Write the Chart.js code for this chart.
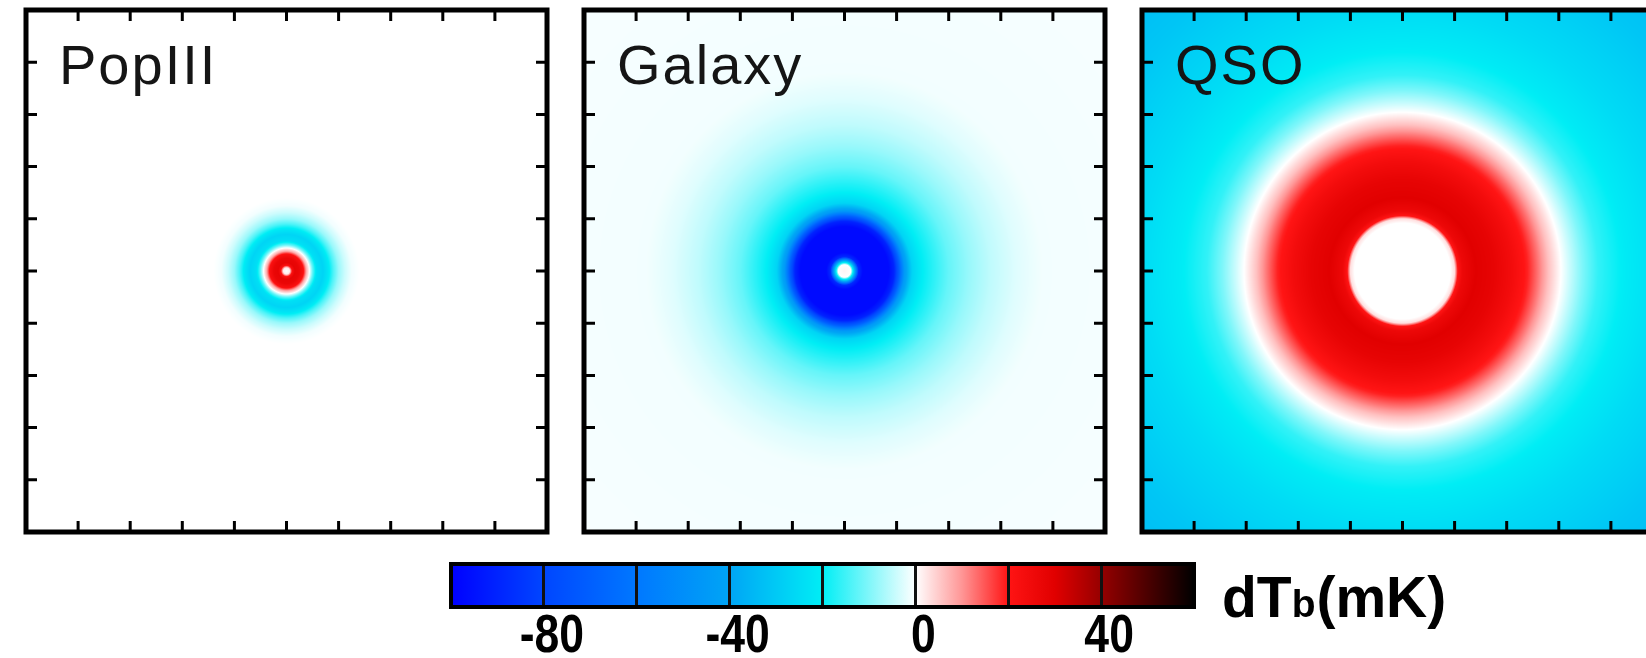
<!DOCTYPE html>
<html><head><meta charset="utf-8">
<script src="https://cdn.jsdelivr.net/npm/chart.js@4/dist/chart.umd.min.js"></script>
<style>
html,body{margin:0;padding:0;background:#fff;width:1646px;height:658px;overflow:hidden;position:relative}
canvas{position:absolute;display:block}
</style></head><body>
<canvas id="p0"></canvas>
<canvas id="p1"></canvas>
<canvas id="p2"></canvas>
<canvas id="cb"></canvas>
<script>
// ---- data ----
const panelTitles = ['PopIII', 'Galaxy', 'QSO'];
// radial profiles: radius (axis units, centre of panel = 0) and dTb (mK)
const popR = [0, 0.06, 0.11, 0.16, 0.24, 0.32, 0.38, 0.44, 0.5, 0.58, 0.7, 0.8, 0.9, 1.0, 1.12, 1.25, 1.4, 7.5];
const popV = [0, 2, 22, 28, 27, 22, 8, 0, -12, -24, -27, -22, -14, -8, -4, -1, 0, 0];
const galR = [0, 0.12, 0.2, 0.27, 0.35, 0.85, 0.95, 1.05, 1.15, 1.3, 1.5, 1.75, 2.0, 2.4, 2.8, 3.3, 3.8, 7.5];
const galV = [1, 0, -40, -88, -97, -97, -90, -70, -45, -27, -20, -16, -12, -8, -5, -2.5, -1, -0.6];
const qsoR = [0, 0.92, 1.0, 1.06, 1.15, 1.4, 1.75, 2.1, 2.4, 2.62, 2.8, 3.0, 3.2, 3.45, 3.75, 4.3, 5.0, 5.7, 6.4, 7.5];
const qsoV = [0, 0, 3, 20, 26, 30, 28, 24, 19, 12, 6, 1, -4, -10, -16, -21, -25, -28, -31, -34];
const profilesR = [popR, galR, qsoR];
const profilesV = [popV, galV, qsoV];
// colour scale
const cmapVals = [-100, -80, -60, -40, -20, 0, 10, 20, 30, 40, 60];
const cmapCols = [[0,0,255],[0,70,255],[0,120,255],[0,165,245],[0,238,245],[255,255,255],[255,150,150],[255,20,20],[225,0,0],[150,0,0],[0,0,0]];
const cbMin = -100, cbMax = 60, cbStep = 20;
const cbLabels = [-80, -40, 0, 40];
const cbTitle = ['dT', 'b', '(mK)'];

// ---- helpers ----
function interp(xs, ys, x) {
  if (x <= xs[0]) return ys[0];
  for (let i = 1; i < xs.length; i++) {
    if (x <= xs[i]) { const t = (x - xs[i-1]) / (xs[i] - xs[i-1]); return ys[i-1] + t * (ys[i] - ys[i-1]); }
  }
  return ys[ys.length - 1];
}
function cmap(v) {
  if (v <= cmapVals[0]) return cmapCols[0];
  for (let i = 1; i < cmapVals.length; i++) {
    if (v <= cmapVals[i]) {
      const t = (v - cmapVals[i-1]) / (cmapVals[i] - cmapVals[i-1]);
      const a = cmapCols[i-1], b = cmapCols[i];
      return [a[0] + t*(b[0]-a[0]), a[1] + t*(b[1]-a[1]), a[2] + t*(b[2]-a[2])];
    }
  }
  return cmapCols[cmapCols.length - 1];
}

const heatPlugin = {
  id: 'heat',
  beforeDatasetsDraw(chart, args, opts) {
    const {ctx, chartArea: a, scales: {x, y}} = chart;
    const w = Math.round(a.right - a.left), h = Math.round(a.bottom - a.top);
    const img = ctx.createImageData(w, h);
    for (let j = 0; j < h; j++) {
      const yv = y.getValueForPixel(a.top + j + 0.5);
      for (let i = 0; i < w; i++) {
        const xv = x.getValueForPixel(a.left + i + 0.5);
        const c = cmap(interp(opts.r, opts.v, Math.hypot(xv, yv)));
        const k = (j * w + i) * 4;
        img.data[k] = c[0]; img.data[k+1] = c[1]; img.data[k+2] = c[2]; img.data[k+3] = 255;
      }
    }
    ctx.putImageData(img, Math.round(a.left), Math.round(a.top));
  },
  afterDraw(chart, args, opts) {
    const {ctx, chartArea: a, scales: {x, y}} = chart;
    ctx.save();
    ctx.strokeStyle = '#000';
    ctx.lineWidth = 3;
    const L = 11;
    ctx.beginPath();
    x.ticks.forEach(t => {
      if (t.value <= x.min || t.value >= x.max) return;
      const px = x.getPixelForValue(t.value);
      ctx.moveTo(px, a.bottom); ctx.lineTo(px, a.bottom - L);
      ctx.moveTo(px, a.top); ctx.lineTo(px, a.top + L);
    });
    y.ticks.forEach(t => {
      if (t.value <= y.min || t.value >= y.max) return;
      const py = y.getPixelForValue(t.value);
      ctx.moveTo(a.left, py); ctx.lineTo(a.left + L, py);
      ctx.moveTo(a.right, py); ctx.lineTo(a.right - L, py);
    });
    ctx.stroke();
    ctx.lineWidth = 5;
    ctx.strokeRect(a.left, a.top, a.right - a.left, a.bottom - a.top);
    ctx.fillStyle = '#151515';
    ctx.font = '56px "Liberation Sans", Arial, sans-serif';
    ctx.letterSpacing = '2px';
    ctx.textBaseline = 'alphabetic';
    ctx.fillText(opts.title, a.left + 33, a.top + 74);
    ctx.restore();
  }
};

const panelX = [18, 576, 1134];
const pad = 4;
panelTitles.forEach((title, i) => {
  const cv = document.getElementById('p' + i);
  cv.width = 529 + 2*pad; cv.height = 530 + 2*pad;
  cv.style.left = (panelX[i] - pad) + 'px';
  cv.style.top = (10 - pad) + 'px';
  new Chart(cv, {
    type: 'scatter',
    data: { datasets: [] },
    plugins: [heatPlugin],
    options: {
      responsive: false, animation: false, events: [],
      layout: { padding: pad },
      plugins: { legend: {display: false}, tooltip: {enabled: false},
        heat: { r: profilesR[i], v: profilesV[i], title: title } },
      scales: {
        x: { type: 'linear', min: -5, max: 5, ticks: {display: false, stepSize: 1}, grid: {display: false}, border: {display: false} },
        y: { type: 'linear', min: -5, max: 5, ticks: {display: false, stepSize: 1}, grid: {display: false}, border: {display: false} }
      }
    }
  });
});

// ---- colour bar ----
const cbPlugin = {
  id: 'cbar',
  beforeDraw(chart) {
    const {ctx, chartArea: a, scales: {x}} = chart;
    const g = ctx.createLinearGradient(x.getPixelForValue(cbMin), 0, x.getPixelForValue(cbMax), 0);
    cmapVals.forEach((v, i) => {
      const c = cmapCols[i];
      g.addColorStop((v - cbMin) / (cbMax - cbMin), `rgb(${c[0]},${c[1]},${c[2]})`);
    });
    ctx.save();
    ctx.fillStyle = g;
    ctx.fillRect(a.left, a.top, a.right - a.left, a.bottom - a.top);
    ctx.restore();
  },
  afterDraw(chart) {
    const {ctx, chartArea: a, scales: {x}} = chart;
    ctx.save();
    ctx.strokeStyle = '#000';
    ctx.lineWidth = 4;
    ctx.strokeRect(a.left, a.top, a.right - a.left, a.bottom - a.top);
    ctx.fillStyle = '#000';
    // condensed tick labels placed by the x scale
    ctx.font = 'bold 53px "Liberation Sans", Arial, sans-serif';
    ctx.textAlign = 'center';
    ctx.textBaseline = 'alphabetic';
    cbLabels.forEach(v => {
      const px = x.getPixelForValue(v) + 8;
      ctx.save();
      ctx.translate(px, a.bottom + 45);
      ctx.scale(0.84, 1);
      ctx.fillText(String(v), 0, 0);
      ctx.restore();
    });
    ctx.textAlign = 'left';
    let xx = a.right + 28;
    const yy = a.top + 53;
    ctx.font = 'bold 57px "Liberation Sans", Arial, sans-serif';
    ctx.fillText(cbTitle[0], xx, yy); xx += ctx.measureText(cbTitle[0]).width;
    ctx.font = 'bold 39px "Liberation Sans", Arial, sans-serif';
    ctx.fillText(cbTitle[1], xx, yy); xx += ctx.measureText(cbTitle[1]).width + 1;
    ctx.font = 'bold 57px "Liberation Sans", Arial, sans-serif';
    ctx.fillText(cbTitle[2], xx, yy);
    ctx.restore();
  }
};
const cbc = document.getElementById('cb');
cbc.width = 1030; cbc.height = 104;
cbc.style.left = '441px'; cbc.style.top = '554px';
new Chart(cbc, {
  type: 'scatter',
  data: { datasets: [] },
  plugins: [cbPlugin],
  options: {
    responsive: false, animation: false, events: [],
    layout: { padding: {left: 10, right: 1471 - 1194, top: 10, bottom: 0} },
    plugins: { legend: {display: false}, tooltip: {enabled: false} },
    scales: {
      x: {
        type: 'linear', min: cbMin, max: cbMax, position: 'bottom',
        afterFit(s) { s.height = 51; },
        ticks: { stepSize: cbStep, autoSkip: false, maxRotation: 0, display: false },
        grid: { display: true, drawOnChartArea: true, drawTicks: false, color: '#111', lineWidth: 3 },
        border: { display: false }
      },
      y: { type: 'linear', min: 0, max: 1, display: false }
    }
  }
});
</script>
</body></html>
